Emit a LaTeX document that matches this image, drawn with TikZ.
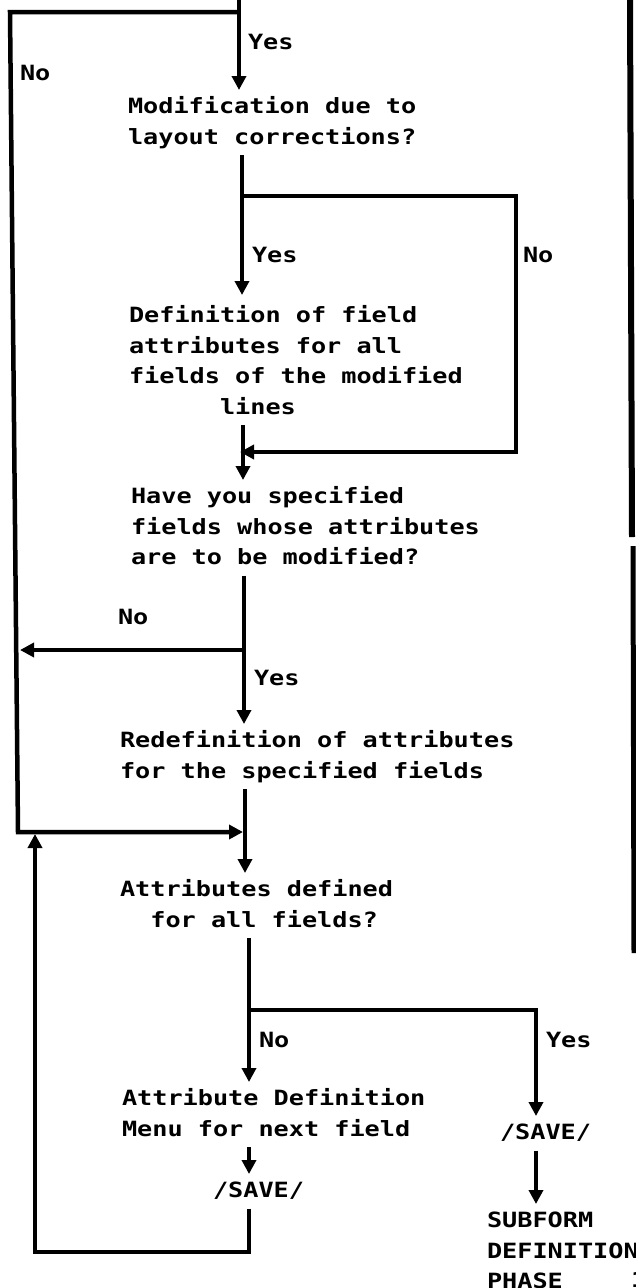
\documentclass[tikz,border=0pt]{standalone}
\usepackage{fontspec}
\newfontfamily\flowfont[FakeStretch=1.2]{DejaVu Sans Mono Bold}
\usetikzlibrary{arrows.meta}

% struts that fix the top and bottom of every text block
\newcommand{\topstrut}{\rule{0pt}{23.5pt}}
\newcommand{\botstrut}{\rule[-11pt]{0pt}{11pt}}

\begin{document}
\begin{tikzpicture}[x=1pt,y=-1pt,
  flow/.style={line width=4.5pt},
  arr/.style={flow,-{Triangle[width=14pt,length=14pt]}},
  txt/.style={anchor=north west,inner sep=0pt,outer sep=0pt,align=left,
    font=\flowfont\fontsize{21pt}{30.5pt}\selectfont},
  lbl/.style={anchor=west,inner sep=0pt,outer sep=0pt,text height=15pt,text depth=0pt,
    font=\flowfont\fontsize{21pt}{30.5pt}\selectfont},
]
\fill[white] (0,0) rectangle (636,1288);
\useasboundingbox (0,0) rectangle (636,1288);

% text blocks
\node[txt] (q1) at (128,90) {\topstrut Modification due to\\layout corrections?\botstrut};
\node[txt] (q2) at (129,299) {\topstrut Definition of field\\attributes for all\\fields of the modified\\\hphantom{xxxxxx}lines\botstrut};
\node[txt] (q3) at (131,480) {\topstrut Have you specified\\fields whose attributes\\are to be modified?\botstrut};
\node[txt] (q4) at (120,724) {\topstrut Redefinition of attributes\\for the specified fields\botstrut};
\node[txt] (q5) at (120,873) {\topstrut Attributes defined\\\hphantom{xx}for all fields?\botstrut};
\node[txt] (q6) at (122,1082) {\topstrut Attribute Definition\\Menu for next field\botstrut};
\node[txt] (savL) at (213,1174) {\topstrut /SAVE/\botstrut};
\node[txt] (savR) at (500,1116) {\topstrut /SAVE/\botstrut};
\node[txt] (sub) at (487,1204) {\topstrut SUBFORM\\DEFINITION\\PHASE\botstrut};

% branch labels
\node[lbl] (yes0) at (248,42) {Yes};
\node[lbl] (no0) at (20,73) {No};
\node[lbl] (yes1) at (252,255) {Yes};
\node[lbl] (no1) at (523,255) {No};
\node[lbl] (no2) at (118,617) {No};
\node[lbl] (yes2) at (254,678) {Yes};
\node[lbl] (no3) at (259,1040) {No};
\node[lbl] (yes3) at (546,1040) {Yes};
\node[lbl] (pg) at (631,1280) {1};

% junctions and corners
\coordinate (top) at (239,0);
\coordinate (j0) at (239,12);
\coordinate (c0) at (10,12);
\coordinate (c1) at (18,832);
\coordinate (m1) at (245,832);
\coordinate (j1) at (242,196);
\coordinate (r1) at (516,196);
\coordinate (r2) at (516,452);
\coordinate (m2) at (243,452);
\coordinate (j3) at (244,650);
\coordinate (c2) at (20,650);
\coordinate (j5) at (249,1010);
\coordinate (r5) at (536,1010);
\coordinate (b1) at (249,1252);
\coordinate (b0) at (35,1252);
\coordinate (u0) at (35,834);

% connectors
\draw[arr] (top) -- (top |- q1.north);
\draw[arr,shorten >=2pt] (j0) -- (c0) -- (c1) -- (m1);
\draw[flow] (q1.south -| j1) -- (j1);
\draw[arr,shorten >=4pt] (j1) -- (j1 |- q2.north);
\draw[arr,shorten >=-3pt] (j1) -- (r1) -- (r2) -- (m2);
\draw[arr] (q2.south -| m2) -- (m2 |- q3.north);
\draw[flow] (q3.south -| j3) -- (j3);
\draw[arr] (j3) -- (c2);
\draw[arr] (j3) -- (j3 |- q4.north);
\draw[arr] (q4.south -| m1) -- (m1 |- q5.north);
\draw[flow] (q5.south -| j5) -- (j5);
\draw[arr] (j5) -- (j5 |- q6.north);
\draw[arr] (j5) -- (r5) -- (r5 |- savR.north);
\draw[arr] (q6.south -| b1) -- (b1 |- savL.north);
\draw[arr] (savL.south -| b1) -- (b1) -- (b0) -- (u0);
\draw[arr] (savR.south -| r5) -- (r5 |- sub.north);

% page edge bar on the right
\draw[line width=6pt] (630,0) -- (632,537);
\draw[line width=5pt] (633,546) -- (634,953);
\end{tikzpicture}
\end{document}
